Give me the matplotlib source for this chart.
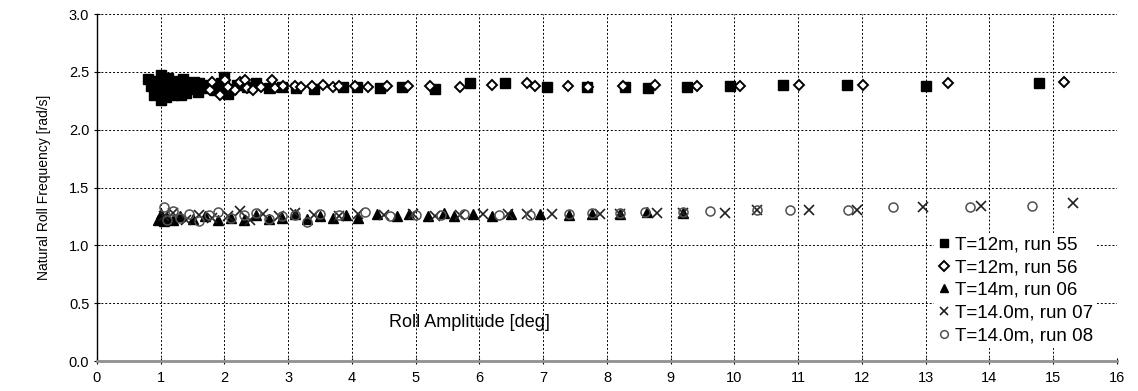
import numpy as np
import matplotlib
matplotlib.use("Agg")
import matplotlib.pyplot as plt

plt.rcParams['font.family'] = ['Liberation Sans', 'DejaVu Sans']

# run 55, T=12m (filled squares)
r55_x = [0.8, 0.85, 0.9, 0.95, 1.0, 1.0, 1.0, 1.05, 1.08, 1.1, 1.12, 1.15, 1.18, 1.2,
         1.22, 1.25, 1.28, 1.3, 1.32, 1.35, 1.38, 1.4, 1.45, 1.5, 1.52, 1.55, 1.58,
         1.6, 1.65, 1.7, 1.75, 1.8, 1.85, 1.9, 1.95, 2.0, 2.05, 2.1, 2.2, 2.35, 2.5,
         2.7, 2.9, 3.13, 3.4, 3.86, 4.08, 4.44, 4.78, 5.30, 5.85, 6.4, 7.06, 7.69,
         8.28, 8.64, 9.25, 9.93, 10.76, 11.76, 13.0, 14.78]
r55_y = [2.44, 2.38, 2.30, 2.42, 2.47, 2.26, 2.35, 2.42, 2.28, 2.34, 2.45, 2.38, 2.32, 2.30,
         2.36, 2.40, 2.42, 2.35, 2.30, 2.44, 2.38, 2.32, 2.36, 2.38, 2.41, 2.35, 2.33,
         2.40, 2.37, 2.36, 2.39, 2.38, 2.34, 2.35, 2.40, 2.46, 2.31, 2.35, 2.39, 2.37, 2.40,
         2.36, 2.37, 2.36, 2.35, 2.37, 2.37, 2.36, 2.37, 2.35, 2.40, 2.40, 2.37, 2.37,
         2.37, 2.36, 2.37, 2.38, 2.39, 2.39, 2.38, 2.40]

# run 56, T=12m (open diamonds)
r56_x = [1.77, 1.80, 1.93, 2.01, 2.06, 2.16, 2.24, 2.32, 2.35, 2.45, 2.58, 2.74, 2.79,
         2.92, 3.1, 3.2, 3.37, 3.55, 3.7, 3.8, 4.05, 4.25, 4.55, 4.88, 5.22, 5.69,
         6.2, 6.75, 6.87, 7.39, 7.70, 8.25, 8.75, 9.41, 10.09, 11.01, 12.01, 13.35, 15.17]
r56_y = [2.34, 2.41, 2.30, 2.43, 2.37, 2.34, 2.41, 2.43, 2.36, 2.34, 2.37, 2.43, 2.36,
         2.38, 2.38, 2.37, 2.38, 2.39, 2.37, 2.38, 2.38, 2.37, 2.38, 2.38, 2.38, 2.37,
         2.39, 2.40, 2.38, 2.38, 2.37, 2.38, 2.39, 2.38, 2.38, 2.39, 2.39, 2.40, 2.41]

# run 06, T=14m (filled triangles)
r06_x = [0.95, 1.0, 1.05, 1.1, 1.2, 1.3, 1.5, 1.7, 1.9, 2.1, 2.3, 2.5, 2.7, 2.9, 3.1, 3.3,
         3.5, 3.7, 3.9, 4.1, 4.4, 4.7, 4.9, 5.2, 5.45, 5.6, 5.9, 6.2, 6.5, 6.95, 7.4,
         7.76, 8.2, 8.63, 9.19]
r06_y = [1.22, 1.27, 1.21, 1.24, 1.22, 1.25, 1.23, 1.25, 1.22, 1.24, 1.22, 1.26, 1.23, 1.24, 1.27, 1.23,
         1.25, 1.24, 1.26, 1.24, 1.27, 1.25, 1.27, 1.25, 1.28, 1.25, 1.27, 1.25, 1.27, 1.27, 1.26,
         1.27, 1.27, 1.29, 1.28]

# run 07, T=14.0m (crosses)
r07_x = [1.05, 1.2, 1.4, 1.6, 1.8, 2.05, 2.25, 2.4, 2.6, 2.85, 3.1, 3.4, 3.8, 4.1, 4.5,
         4.95, 5.3, 5.7, 6.05, 6.45, 6.75, 7.14, 7.89, 8.2, 8.78, 9.2, 9.85, 10.35,
         11.17, 11.92, 12.96, 13.87, 15.31]
r07_y = [1.25, 1.28, 1.22, 1.26, 1.24, 1.25, 1.30, 1.22, 1.27, 1.25, 1.28, 1.26, 1.25, 1.27, 1.26,
         1.27, 1.25, 1.26, 1.27, 1.27, 1.27, 1.27, 1.27, 1.27, 1.28, 1.28, 1.28, 1.31,
         1.31, 1.31, 1.33, 1.34, 1.37]

# run 08, T=14.0m (open circles)
r08_x = [1.05, 1.1, 1.2, 1.3, 1.45, 1.6, 1.75, 1.9, 2.1, 2.3, 2.5, 2.7, 2.9, 3.1, 3.3,
         3.5, 3.8, 4.2, 4.6, 5.0, 5.4, 5.75, 6.3, 6.8, 7.4, 7.76, 8.2, 8.6, 9.19, 9.62,
         10.35, 10.87, 11.78, 12.49, 13.69, 14.67]
r08_y = [1.33, 1.22, 1.30, 1.24, 1.27, 1.21, 1.26, 1.29, 1.24, 1.26, 1.28, 1.23, 1.25, 1.26, 1.20,
         1.27, 1.26, 1.29, 1.25, 1.26, 1.26, 1.27, 1.26, 1.26, 1.27, 1.28, 1.28, 1.29, 1.29, 1.30,
         1.31, 1.31, 1.31, 1.33, 1.33, 1.34]

fig = plt.figure(figsize=(11.38, 3.91), dpi=100)
ax = fig.add_axes([0.0852, 0.0767, 0.8963, 0.8873])

ax.plot(r55_x, r55_y, 's', ms=7.6, color='black', mec='black', label='T=12m, run 55', zorder=3)
ax.plot(r56_x, r56_y, 'D', ms=5.6, mfc='white', mec='black', mew=1.4, label='T=12m, run 56', zorder=4)
ax.plot(r06_x, r06_y, '^', ms=7.0, color='black', label='T=14m, run 06', zorder=3)
ax.plot(r07_x, r07_y, 'x', ms=6.5, color='#202020', mew=1.2, label='T=14.0m, run 07', zorder=4)
ax.plot(r08_x, r08_y, 'o', ms=6.5, mfc='none', mec='#505050', mew=1.1, label='T=14.0m, run 08', zorder=5)

ax.set_xlim(0, 16)
ax.set_ylim(0, 3.0)
ax.set_xticks(np.arange(0, 17, 1))
ax.set_yticks(np.arange(0, 3.01, 0.5))
ax.set_yticklabels(['%.1f' % v for v in np.arange(0, 3.01, 0.5)])
ax.grid(True, color='black', linestyle=(0, (2, 2)), linewidth=0.7)
ax.set_axisbelow(True)

ax.spines['top'].set_visible(False)
ax.spines['right'].set_visible(False)
ax.spines['left'].set_color('black')
ax.spines['left'].set_linewidth(1.0)
ax.spines['bottom'].set_color('#909090')
ax.spines['bottom'].set_linewidth(2.0)
ax.tick_params(axis='both', labelsize=10.5, length=4, direction='inout', width=0.8)
ax.tick_params(axis='x', pad=5)

ax.set_ylabel('Natural Roll Frequency [rad/s]', fontsize=10, labelpad=13)
ax.text(5.85, 0.33, 'Roll Amplitude [deg]', fontsize=13, ha='center', va='center')

leg = ax.legend(loc='lower right', bbox_to_anchor=(0.99, 0.01), frameon=True,
                fontsize=13.5, handlelength=0.7, handletextpad=0.25, labelspacing=0.3,
                borderpad=0.2, markerscale=0.85)
leg.get_frame().set_edgecolor('none')
leg.get_frame().set_facecolor('white')
leg.get_frame().set_alpha(1.0)

fig.savefig('out.png', dpi=100)
